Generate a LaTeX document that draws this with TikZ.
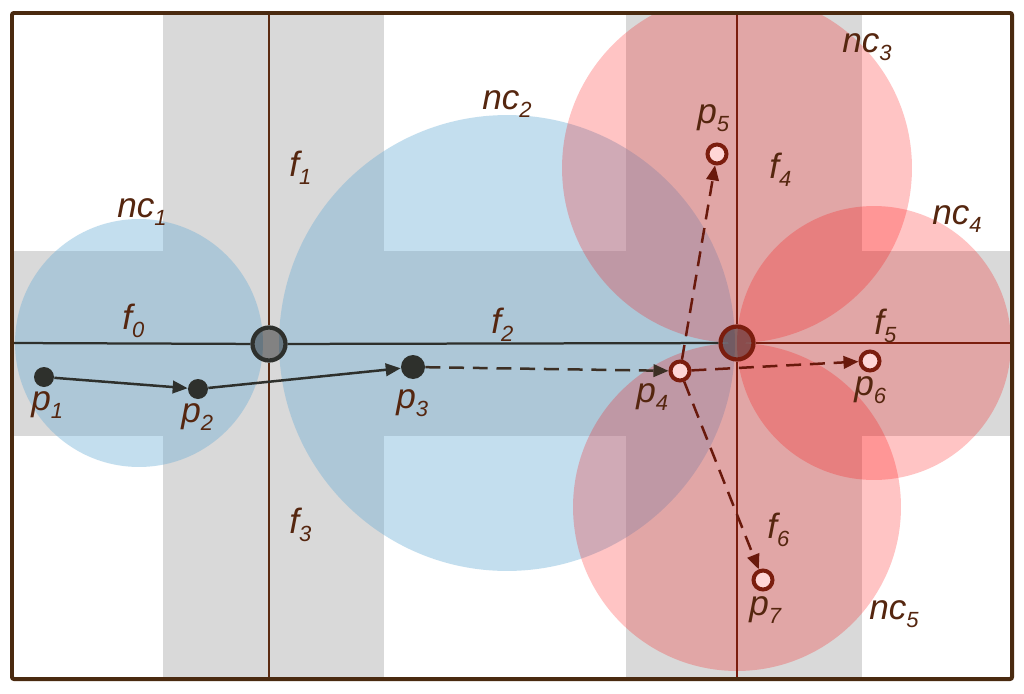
\documentclass[tikz,border=0pt]{standalone}
\usepackage{fontspec}
\setmainfont{Liberation Sans}
\usetikzlibrary{arrows.meta}
\definecolor{frameC}{HTML}{4A2A10}
\definecolor{roadC}{HTML}{D9D9D9}
\definecolor{blueC}{HTML}{6BAED6}
\definecolor{darkC}{HTML}{2E302C}
\definecolor{brownC}{HTML}{5B2B12}
\definecolor{redC}{HTML}{7B1D0E}
\definecolor{labelC}{HTML}{55260F}
\definecolor{openfill}{HTML}{FFD6D6}
\newcommand{\lb}[2]{#1\raisebox{-5pt}{\fontsize{12.5}{12.5}\selectfont #2}}
\begin{document}
\begin{tikzpicture}[x=0.02cm,y=-0.02cm,
  lbl/.style={anchor=base west,inner sep=0pt,text=labelC,font=\fontsize{20}{22}\selectfont\itshape},
  road/.style={fill=roadC},
  bluezone/.style={fill=blueC,fill opacity=0.4},
  redzone/.style={fill=red,fill opacity=0.23},
  fline/.style={line width=0.045cm},
  inter/.style={circle,inner sep=0pt,minimum size=0.66cm,line width=0.085cm,fill=black,fill opacity=0.4,draw opacity=1},
  solidpt/.style={circle,inner sep=0pt,fill=darkC,minimum size=#1},
  openpt/.style={circle,inner sep=0pt,minimum size=0.38cm,line width=0.08cm,draw=redC,fill=openfill},
  arr/.style={line width=0.05cm,darkC,-{Triangle[length=3mm,width=2.5mm]}},
  darr/.style={line width=0.05cm,dash pattern=on 8.5pt off 5pt,-{Triangle[length=3mm,width=2.5mm]}}
]
\useasboundingbox (0,0) rectangle (1024,693);
\fill[white] (0,0) rectangle (1024,693);
\begin{scope}
\clip (12,13) rectangle (1012,679);
\fill[road] (12,251) rectangle (1012,436);
\fill[road] (163,13) rectangle (384,679);
\fill[road] (626,13) rectangle (862,679);
\fill[bluezone] (139,343) circle[radius=2.48cm];
\fill[bluezone] (507,343) circle[radius=4.56cm];
\fill[redzone] (737,168) circle[radius=3.5cm];
\fill[redzone] (874,343) circle[radius=2.74cm];
\fill[redzone] (737,507) circle[radius=3.28cm];
\end{scope}

% frame-edge coordinates
\coordinate (L) at (12,343);
\coordinate (R) at (1012,343);
\coordinate (T1) at (269,13);
\coordinate (B1) at (269,679);
\coordinate (T2) at (737,13);
\coordinate (B2) at (737,679);

% intersections
\node[inter,draw=darkC] (i1) at (269,344) {};
\node[inter,draw=redC] (i2) at (737,343) {};

% road lines
\draw[fline,brownC] (T1) -- (i1) -- (B1);
\draw[fline,redC] (T2) -- (i2) -- (B2);
\draw[fline,darkC] (L) -- (i1) -- (i2);
\draw[fline,redC] (i2) -- (R);

% points
\node[solidpt=0.4cm] (p1) at (44,377) {};
\node[solidpt=0.4cm] (p2) at (198,389) {};
\node[solidpt=0.48cm] (p3) at (413,367) {};
\node[openpt] (p4) at (680,371) {};
\node[openpt] (p5) at (717,154) {};
\node[openpt] (p6) at (870,361) {};
\node[openpt] (p7) at (763,580) {};

% trajectories
\draw[arr] (p1) -- (p2);
\draw[arr] (p2) -- (p3);
\draw[darr,color=darkC!70!brownC] (p3) -- (p4);
\draw[darr,color=redC!85!black] (p4) -- (p5);
\draw[darr,color=redC!85!black] (p4) -- (p6);
\draw[darr,color=redC!85!black] (p4) -- (p7);

% labels
\node[lbl] (lnc1) at (117,217) {\lb{nc}{1}};
\node[lbl] (lnc2) at (482,109) {\lb{nc}{2}};
\node[lbl] (lnc3) at (842,52) {\lb{nc}{3}};
\node[lbl] (lnc4) at (932,224) {\lb{nc}{4}};
\node[lbl] (lnc5) at (869,619) {\lb{nc}{5}};
\node[lbl] (lf0) at (122,329) {\lb{f}{0}};
\node[lbl] (lf1) at (289,176) {\lb{f}{1}};
\node[lbl] (lf2) at (491,333) {\lb{f}{2}};
\node[lbl] (lf3) at (289,533) {\lb{f}{3}};
\node[lbl] (lf4) at (769,178) {\lb{f}{4}};
\node[lbl] (lf5) at (874,334) {\lb{f}{5}};
\node[lbl] (lf6) at (767,538) {\lb{f}{6}};
\node[lbl] (lp1) at (31,410) {\lb{p}{1}};
\node[lbl] (lp2) at (181,422) {\lb{p}{2}};
\node[lbl] (lp3) at (396,408) {\lb{p}{3}};
\node[lbl] (lp4) at (636,402) {\lb{p}{4}};
\node[lbl] (lp5) at (697,123) {\lb{p}{5}};
\node[lbl] (lp6) at (854,395) {\lb{p}{6}};
\node[lbl] (lp7) at (749,615) {\lb{p}{7}};

% frame
\draw[frameC,line width=0.08cm,rounded corners=0.04cm] (12,13) rectangle (1012,679);
\end{tikzpicture}
\end{document}
